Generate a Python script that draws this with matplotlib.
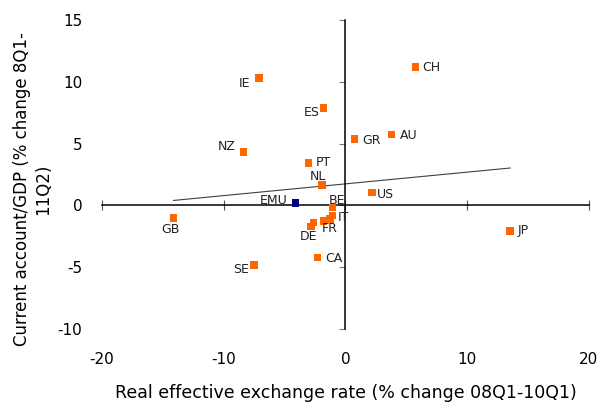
import numpy as np
import matplotlib
matplotlib.use("Agg")
import matplotlib.pyplot as plt

# country codes, real effective exchange rate change, current account change
countries = ["CH", "IE", "ES", "GR", "AU", "NZ", "PT", "NL", "US", "EMU",
             "BE", "IT", "", "FR", "", "DE", "GB", "CA", "SE", "JP"]
reer_change = [5.77, -7.10, -1.77, 0.76, 3.79, -8.34, -3.00, -1.93, 2.20, -4.09,
               -1.05, -1.05, -1.25, -1.77, -2.59, -2.83, -14.11, -2.28, -7.49, 13.54]
ca_change = [11.20, 10.31, 7.88, 5.37, 5.72, 4.32, 3.43, 1.65, 1.06, 0.19,
             -0.19, -0.83, -1.10, -1.26, -1.37, -1.69, -1.02, -4.23, -4.82, -2.07]

# linear trend fitted in the original chart
trend_slope = 0.095
trend_intercept = 1.74

x_ticks = [-20, -10, 0, 10, 20]
y_ticks = [-10, -5, 0, 5, 10, 15]

# label placement: (dx, dy) in pixels, horizontal alignment
label_pos = {
    "CH": (7, 0, "left"), "IE": (-9, -5, "right"), "ES": (-4, -4, "right"),
    "GR": (8, -1, "left"), "AU": (8, -1, "left"), "NZ": (-8, 6, "right"),
    "PT": (7, 1, "left"), "NL": (-4, 8, "center"), "US": (5, -2, "left"),
    "EMU": (-8, 3, "right"), "BE": (4, 7, "center"), "IT": (5, -2, "left"),
    "FR": (6, -8, "center"), "DE": (-2, -10, "center"), "GB": (-3, -12, "center"),
    "CA": (8, -1, "left"), "SE": (-5, -5, "right"), "JP": (7, 0, "left"),
}

plt.rcParams["font.family"] = "DejaVu Sans"
plt.rcParams["axes.unicode_minus"] = False

fig = plt.figure(figsize=(5.99, 4.03), dpi=100)
ax = fig.add_axes([0.170, 0.184, 0.813, 0.766])

colors = ["#000080" if c == "EMU" else "#FF6600" for c in countries]
ax.scatter(reer_change, ca_change, marker="s", s=28, c=colors, linewidths=0, zorder=3)

tx = np.array([min(reer_change), max(reer_change)])
ax.plot(tx, trend_intercept + trend_slope * tx, color="#404040", lw=0.8, zorder=2)

for name, x, y in zip(countries, reer_change, ca_change):
    if not name:
        continue
    dx, dy, ha = label_pos[name]
    ax.annotate(name, (x, y), xytext=(dx, dy), textcoords="offset pixels",
                ha=ha, va="center", fontsize=9, color="#222222")

ax.set_xlim(-20, 20)
ax.set_ylim(-10, 15)

# axis lines through the origin
ax.spines["left"].set_position(("data", 0))
ax.spines["bottom"].set_position(("data", 0))
ax.spines["right"].set_visible(False)
ax.spines["top"].set_visible(False)
ax.spines["left"].set_linewidth(1.1)
ax.spines["bottom"].set_linewidth(1.1)
ax.set_xticks(x_ticks)
ax.set_yticks(y_ticks)
ax.tick_params(axis="x", direction="inout", length=7, width=0.8, color="#555555",
               labelbottom=False)
ax.tick_params(axis="y", direction="out", length=4, width=0.8, color="#777777",
               labelleft=False)

# tick labels at the edges of the plot
secx = ax.secondary_xaxis("bottom")
secx.set_xticks(x_ticks)
secx.spines["bottom"].set_visible(False)
secx.tick_params(length=0, pad=17, labelsize=11)

secy = ax.secondary_yaxis("left")
secy.set_yticks(y_ticks)
secy.spines["left"].set_visible(False)
secy.tick_params(length=0, pad=14, labelsize=11)

fig.text(0.577, 0.025, "Real effective exchange rate (% change 08Q1-10Q1)",
         ha="center", va="center", fontsize=12.5)
fig.text(0.054, 0.53, "Current account/GDP (% change 8Q1-\n11Q2)",
         ha="center", va="center", rotation=90, fontsize=12, linespacing=1.25)

fig.savefig("out.png", dpi=100)
